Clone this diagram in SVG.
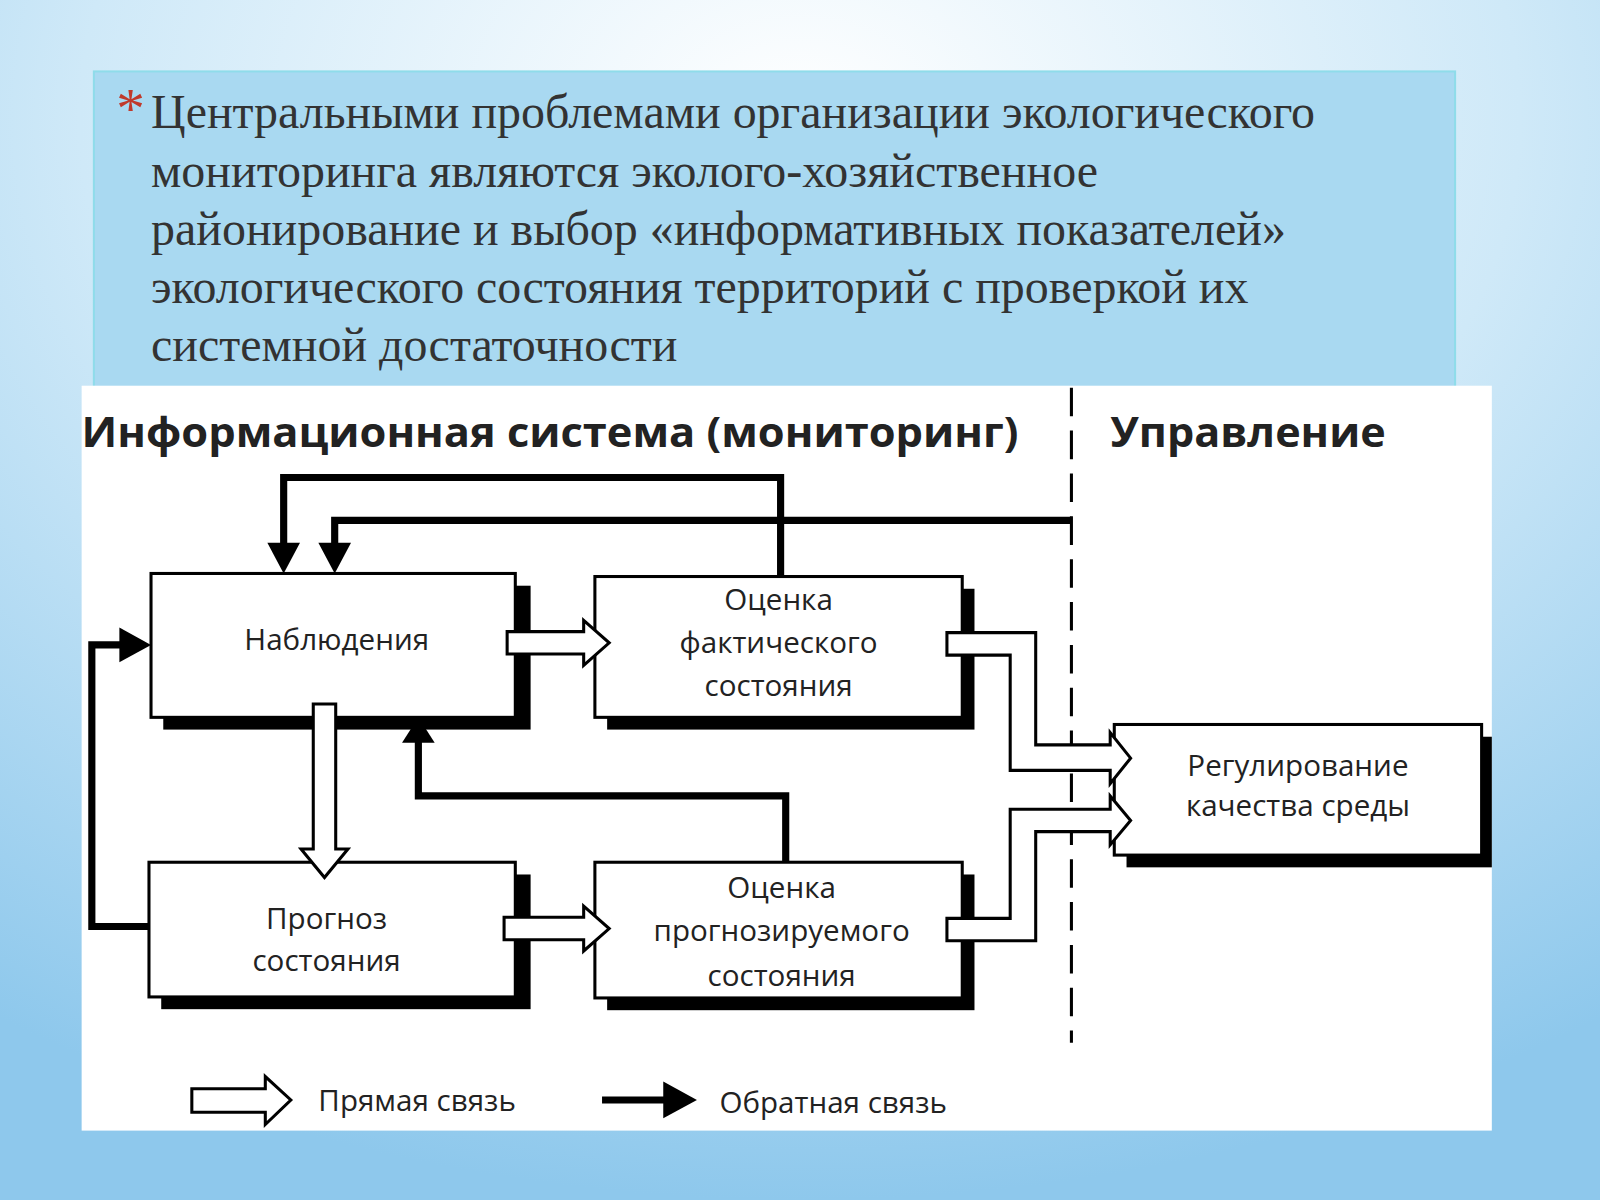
<svg xmlns="http://www.w3.org/2000/svg" width="1600" height="1200" viewBox="0 0 1600 1200">
<defs>
<radialGradient id="bg" cx="0.5" cy="0.1" r="0.9">
<stop offset="0" stop-color="#ffffff"/><stop offset="0.5" stop-color="#cfe9f8"/><stop offset="1" stop-color="#8ec8ec"/>
</radialGradient>
<style>
.hd{font-family:"Liberation Serif",serif;font-size:47px;fill:#333}
.tt{font-family:"Open Sans","DejaVu Sans",sans-serif;font-weight:bold;font-size:40px;fill:#222}
.lb{font-family:"Open Sans","DejaVu Sans",sans-serif;font-size:29px;fill:#222;text-anchor:middle}
.lg{font-family:"Open Sans","DejaVu Sans",sans-serif;font-size:29px;fill:#222}
.box{fill:#fff;stroke:#000;stroke-width:3}
.sh{fill:#000}
.fb{fill:none;stroke:#000;stroke-width:7}
.ho{fill:#fff;stroke:#000;stroke-width:3;stroke-linejoin:miter}
</style>
</defs>
<rect width="1600" height="1200" fill="url(#bg)"/>
<g transform="scale(1.0204)">
<rect x="92" y="70" width="1334" height="310" fill="#a9d9f1" stroke="#8fdcea" stroke-width="2"/>
<text x="114" y="125" font-family="Liberation Serif,serif" font-size="56" fill="#c0392b">*</text>
<text class="hd"><tspan x="148" y="125">Центральными проблемами организации экологического</tspan><tspan x="148" y="183">мониторинга являются эколого-хозяйственное</tspan><tspan x="148" y="240">районирование и выбор «информативных показателей»</tspan><tspan x="148" y="297">экологического состояния территорий с проверкой их</tspan><tspan x="148" y="354">системной достаточности</tspan></text>
<rect x="80" y="378" width="1382" height="730" fill="#fff"/>
<text class="tt" x="80" y="438" textLength="918" lengthAdjust="spacingAndGlyphs">Информационная система (мониторинг)</text>
<text class="tt" x="1088" y="438" textLength="270" lengthAdjust="spacingAndGlyphs">Управление</text>
<line x1="1050" y1="380" x2="1050" y2="1022" stroke="#000" stroke-width="3" stroke-dasharray="28,14"/>

<g id="n1"><rect class="sh" x="160" y="574" width="360" height="141"/><rect class="box" x="148" y="562" width="357" height="141"/><text class="lb" x="330" y="637">Наблюдения</text></g>
<g id="n2"><rect class="sh" x="595" y="577" width="360" height="138"/><rect class="box" x="583" y="565" width="360" height="138"/><text class="lb" x="763" y="598">Оценка</text><text class="lb" x="763" y="640">фактического</text><text class="lb" x="763" y="682">состояния</text></g>
<g id="n3"><rect class="sh" x="158" y="857" width="362" height="132"/><rect class="box" x="146" y="845" width="359" height="132"/><text class="lb" x="320" y="910">Прогноз</text><text class="lb" x="320" y="952">состояния</text></g>
<g id="n4"><rect class="sh" x="595" y="857" width="360" height="133"/><rect class="box" x="583" y="845" width="360" height="133"/><text class="lb" x="766" y="880">Оценка</text><text class="lb" x="766" y="922">прогнозируемого</text><text class="lb" x="766" y="966">состояния</text></g>
<g id="n5"><rect class="sh" x="1104" y="722" width="358" height="128"/><rect class="box" x="1092" y="710" width="360" height="128"/><text class="lb" x="1272" y="760">Регулирование</text><text class="lb" x="1272" y="800">качества среды</text></g>

<g id="connectors">
<polyline class="fb" points="765,565 765,468 278,468 278,535"/>
<polygon points="262,532 294,532 278,562"/>
<polyline class="fb" points="1050,510 328,510 328,535"/>
<polygon points="312,532 344,532 328,562"/>
<polyline class="fb" points="146,908 90,908 90,632 120,632"/>
<polygon points="117,615 148,632 117,649"/>
<polyline class="fb" points="770,845 770,780 410,780 410,725"/>
<polygon points="394,728 426,728 410,703"/>
<polygon class="ho" points="497,619 572,619 572,608 597,630 572,652 572,641 497,641"/>
<polygon class="ho" points="494,899 572,899 572,888 597,910 572,932 572,921 494,921"/>
<polygon class="ho" points="307,690 329,690 329,832 341,832 318,860 295,832 307,832"/>
<polygon class="ho" points="928,620 1015,620 1015,730 1088,730 1088,718 1108,743 1088,768 1088,755 990,755 990,642 928,642"/>
<polygon class="ho" points="928,922 1015,922 1015,815 1088,815 1088,828 1108,804 1088,780 1088,793 990,793 990,900 928,900"/>
</g>

<g id="legend">
<polygon class="ho" points="188,1067 260,1067 260,1055 285,1078 260,1102 260,1090 188,1090"/>
<text class="lg" x="312" y="1089">Прямая связь</text>
<line x1="590" y1="1078" x2="655" y2="1078" stroke="#000" stroke-width="7"/>
<polygon points="650,1060 683,1078 650,1096"/>
<text class="lg" x="705" y="1091">Обратная связь</text>
</g>
</g>
</svg>
